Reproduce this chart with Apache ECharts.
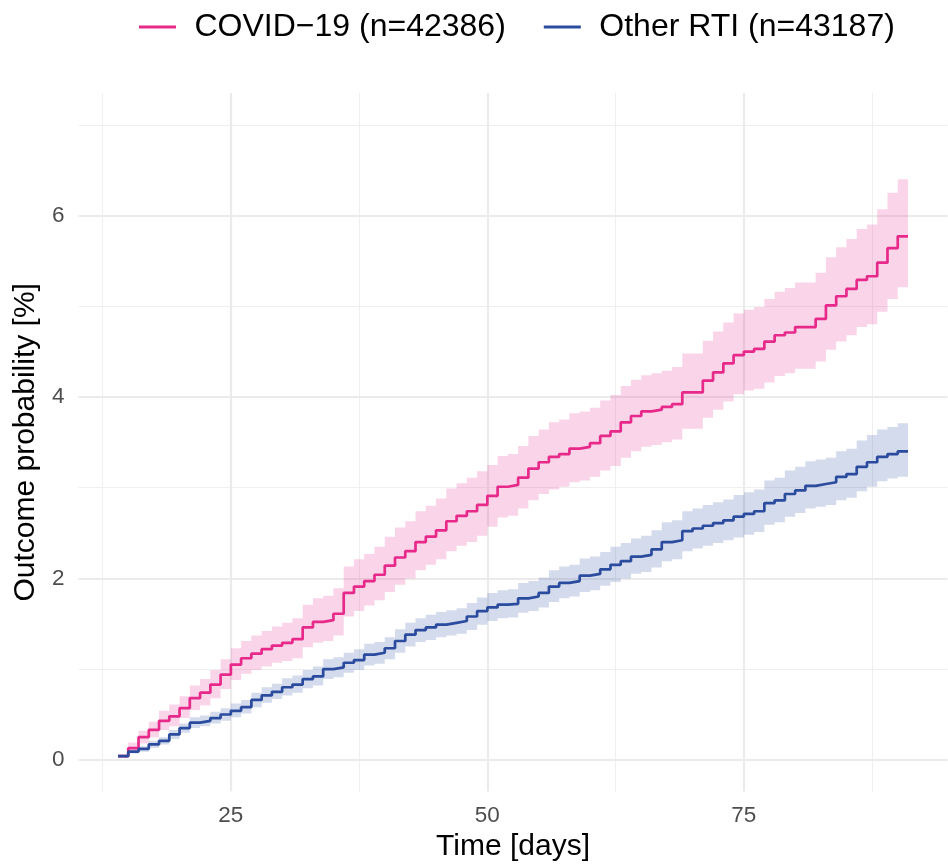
<!DOCTYPE html>
<html><head><meta charset="utf-8">
<script src="https://cdn.jsdelivr.net/npm/echarts@6/dist/echarts.min.js"></script>
<style>html,body{margin:0;padding:0;background:#fff}#c{width:948px;height:867px}</style>
</head><body><div id="c"></div>
<script>
const days = [14,15,16,17,18,19,20,21,22,23,24,25,26,27,28,29,30,31,32,33,34,35,36,37,38,39,40,41,42,43,44,45,46,47,48,49,50,51,52,53,54,55,56,57,58,59,60,61,62,63,64,65,66,67,68,69,70,71,72,73,74,75,76,77,78,79,80,81,82,83,84,85,86,87,88,89,90];
const endDay = 91;
const covidMid = [0.04,0.13,0.25,0.33,0.43,0.48,0.57,0.68,0.74,0.83,0.94,1.05,1.12,1.17,1.22,1.26,1.29,1.33,1.46,1.52,1.54,1.61,1.84,1.91,1.97,2.04,2.14,2.23,2.30,2.40,2.46,2.53,2.63,2.69,2.74,2.81,2.91,3.01,3.03,3.11,3.21,3.28,3.34,3.37,3.43,3.45,3.49,3.57,3.62,3.72,3.79,3.84,3.86,3.89,3.92,4.05,4.05,4.18,4.27,4.37,4.46,4.50,4.53,4.61,4.68,4.71,4.77,4.77,4.86,5.01,5.11,5.19,5.29,5.33,5.48,5.64,5.77];
const covidHigh = [0.06,0.19,0.32,0.42,0.54,0.61,0.70,0.82,0.89,0.99,1.11,1.23,1.31,1.37,1.42,1.47,1.51,1.56,1.71,1.78,1.81,1.89,2.13,2.21,2.27,2.35,2.46,2.56,2.63,2.74,2.80,2.88,2.99,3.05,3.11,3.18,3.25,3.35,3.37,3.46,3.57,3.64,3.72,3.75,3.82,3.84,3.88,3.96,4.02,4.12,4.19,4.24,4.26,4.29,4.33,4.48,4.48,4.62,4.72,4.82,4.92,4.96,4.99,5.08,5.16,5.20,5.26,5.26,5.37,5.54,5.65,5.74,5.85,5.90,6.07,6.25,6.40];
const covidLow = [0.02,0.09,0.18,0.25,0.33,0.37,0.46,0.55,0.60,0.68,0.78,0.88,0.95,0.99,1.03,1.07,1.09,1.12,1.24,1.29,1.31,1.37,1.58,1.64,1.70,1.76,1.85,1.93,2.00,2.09,2.15,2.21,2.30,2.36,2.40,2.47,2.57,2.67,2.69,2.77,2.86,2.93,2.98,3.01,3.06,3.08,3.12,3.19,3.24,3.33,3.40,3.45,3.47,3.50,3.53,3.65,3.65,3.77,3.86,3.95,4.03,4.07,4.09,4.16,4.23,4.26,4.31,4.31,4.39,4.52,4.61,4.68,4.77,4.80,4.94,5.08,5.21];
const otherMid = [0.04,0.09,0.12,0.17,0.21,0.28,0.35,0.41,0.43,0.46,0.50,0.54,0.58,0.66,0.71,0.75,0.80,0.83,0.89,0.92,1.00,1.02,1.07,1.10,1.16,1.18,1.23,1.31,1.38,1.43,1.46,1.49,1.51,1.53,1.58,1.64,1.68,1.71,1.72,1.78,1.80,1.84,1.91,1.95,1.97,2.03,2.05,2.10,2.15,2.19,2.24,2.26,2.32,2.40,2.42,2.52,2.55,2.58,2.61,2.64,2.68,2.71,2.74,2.83,2.86,2.93,2.97,3.02,3.04,3.06,3.12,3.15,3.23,3.28,3.34,3.37,3.40];
const otherHigh = [0.05,0.11,0.15,0.21,0.25,0.33,0.40,0.47,0.49,0.53,0.57,0.62,0.66,0.74,0.80,0.84,0.90,0.93,0.99,1.03,1.11,1.13,1.18,1.22,1.28,1.30,1.35,1.44,1.51,1.56,1.60,1.63,1.65,1.67,1.73,1.79,1.84,1.87,1.88,1.95,1.97,2.01,2.09,2.13,2.15,2.22,2.24,2.29,2.35,2.39,2.44,2.47,2.53,2.62,2.64,2.74,2.77,2.81,2.84,2.87,2.92,2.95,2.98,3.08,3.11,3.19,3.23,3.29,3.31,3.33,3.40,3.43,3.52,3.58,3.64,3.67,3.71];
const otherLow = [0.03,0.07,0.09,0.13,0.17,0.23,0.30,0.35,0.37,0.40,0.43,0.47,0.51,0.58,0.63,0.67,0.71,0.74,0.79,0.82,0.89,0.91,0.96,0.99,1.04,1.06,1.11,1.18,1.25,1.30,1.32,1.35,1.37,1.39,1.43,1.49,1.53,1.56,1.57,1.62,1.64,1.68,1.74,1.78,1.80,1.85,1.87,1.92,1.96,2.00,2.05,2.07,2.12,2.19,2.21,2.30,2.33,2.36,2.39,2.42,2.45,2.48,2.51,2.59,2.62,2.68,2.72,2.77,2.79,2.81,2.86,2.89,2.96,3.01,3.07,3.10,3.12];
const xTickLabels = [25, 50, 75];
const yTickLabels = [0, 2, 4, 6];
const xMajorGrid = [25, 50, 75];
const xMinorGrid = [12.5, 37.5, 62.5, 87.5];
const yMajorGrid = [0, 2, 4, 6];
const yMinorGrid = [1, 3, 5, 7];
const seriesNames = ['COVID\u221219 (n=42386)', 'Other RTI (n=43187)'];
const xTitle = 'Time [days]';
const yTitle = 'Outcome probability [%]';

const PINK = '#E7298A', BLUE = '#2A4B9E';
const FONT = '"Liberation Sans", Arial, Helvetica, sans-serif';

function pts(vals) {
  const a = days.map((d, i) => [d, vals[i]]);
  a.push([endDay, vals[vals.length - 1]]);
  return a;
}
const gridMajor = { color: '#EBEBEB', width: 2.2, type: 'solid' };
const gridMinor = { color: '#EFEFEF', width: 1.1, type: 'solid' };
const gridLines = []
  .concat(xMinorGrid.map(v => ({ xAxis: v, lineStyle: gridMinor })))
  .concat(yMinorGrid.map(v => ({ yAxis: v, lineStyle: gridMinor })))
  .concat(xMajorGrid.map(v => ({ xAxis: v, lineStyle: gridMajor })))
  .concat(yMajorGrid.map(v => ({ yAxis: v, lineStyle: gridMajor })));

// confidence ribbon as one stepped polygon, coordinates through the axes
function band(name, lo, hi, color) {
  return {
    name: name, type: 'custom', silent: true, z: 2,
    data: days.map((d, i) => [d, lo[i], hi[i]]),
    encode: { x: 0, y: [1, 2] },
    renderItem: function (params, api) {
      if (params.dataIndex !== 0) return null;
      const n = days.length;
      const next = i => (i + 1 < n ? days[i + 1] : endDay);
      const poly = [];
      for (let i = 0; i < n; i++) {
        poly.push(api.coord([days[i], hi[i]]));
        poly.push(api.coord([next(i), hi[i]]));
      }
      for (let i = n - 1; i >= 0; i--) {
        poly.push(api.coord([next(i), lo[i]]));
        poly.push(api.coord([days[i], lo[i]]));
      }
      return { type: 'polygon', shape: { points: poly }, style: { fill: color, opacity: 0.2 } };
    }
  };
}

const chart = echarts.init(document.getElementById('c'), null, { renderer: 'canvas' });
chart.setOption({
  animation: false,
  backgroundColor: '#fff',
  textStyle: { fontFamily: FONT },
  grid: { left: 78.5, right: 0.5, top: 93, bottom: 73, containLabel: false },
  legend: {
    top: 6, left: 134,
    data: seriesNames,
    icon: 'rect', itemWidth: 37, itemHeight: 3, itemGap: 38,
    textStyle: { fontSize: 32, color: '#000', fontFamily: FONT, padding: [0, 0, 0, 13.5] }
  },
  xAxis: {
    type: 'value', min: 10.15, max: 94.85,
    axisLine: { show: false }, axisTick: { show: false }, splitLine: { show: false },
    axisLabel: { customValues: xTickLabels, fontSize: 22.5, color: '#4D4D4D', margin: 12.5, fontFamily: FONT },
    name: xTitle, nameLocation: 'middle', nameGap: 50,
    nameTextStyle: { fontSize: 30, color: '#000', verticalAlign: 'middle', fontFamily: FONT }
  },
  yAxis: {
    type: 'value', min: -0.35, max: 7.35,
    axisLine: { show: false }, axisTick: { show: false }, splitLine: { show: false },
    axisLabel: { customValues: yTickLabels, fontSize: 22.5, color: '#4D4D4D', margin: 14, fontFamily: FONT },
    name: yTitle, nameLocation: 'middle', nameGap: 51, nameRotate: 90,
    nameTextStyle: { fontSize: 30, color: '#000', verticalAlign: 'middle', fontFamily: FONT }
  },
  series: [
    { name: 'grid', type: 'line', data: [], silent: true,
      markLine: { silent: true, symbol: 'none', label: { show: false }, z: 0, animation: false, data: gridLines } },
    band('covidBand', covidLow, covidHigh, PINK),
    band('otherBand', otherLow, otherHigh, BLUE),
    { name: seriesNames[0], type: 'line', step: 'end', data: pts(covidMid), symbol: 'none',
      color: PINK, lineStyle: { color: PINK, width: 2.7 }, z: 4 },
    { name: seriesNames[1], type: 'line', step: 'end', data: pts(otherMid), symbol: 'none',
      color: BLUE, lineStyle: { color: BLUE, width: 2.7 }, z: 4 }
  ]
});
</script>
</body></html>
